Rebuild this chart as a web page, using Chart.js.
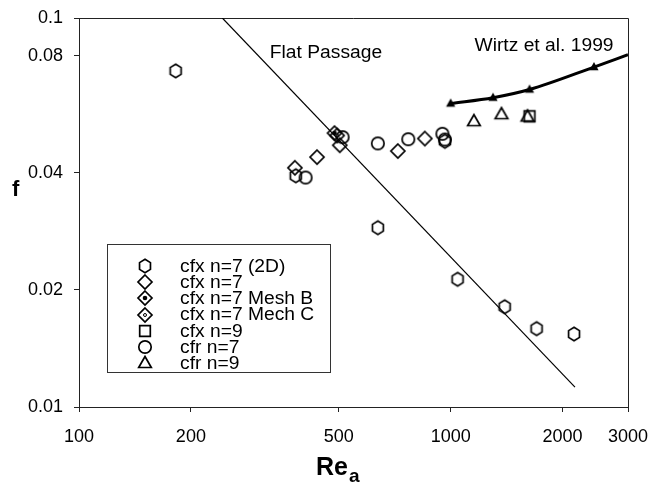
<!DOCTYPE html>
<html>
<head>
<meta charset="utf-8">
<script src="https://cdn.jsdelivr.net/npm/chart.js@4.4.1/dist/chart.umd.min.js"></script>
<style>
  html, body { margin: 0; padding: 0; background: #fff; }
  #wrap { width: 649px; height: 489px; }
</style>
</head>
<body>
<div id="wrap"><canvas id="c" width="649" height="489"></canvas></div>
<script>
// ---- data (Re_a, f) ----
const xTicks = [100, 200, 500, 1000, 2000, 3000];
const yTicks = [0.01, 0.02, 0.04, 0.08, 0.1];

const cfx2dRe = [182, 383, 637, 1044, 1397, 1703, 2147, 965];
const cfx2dF  = [0.0731, 0.0393, 0.0289, 0.0213, 0.0181, 0.0159, 0.0154, 0.0482];
const cfx7Re  = [381, 437, 503, 721, 852];
const cfx7F   = [0.0412, 0.0439, 0.0471, 0.0455, 0.0490];
const meshBRe = [487];
const meshBF  = [0.0506];
const mechCRe = [495];
const mechCF  = [0.0499];
const cfx9Re  = [1630];
const cfx9F   = [0.0559];
const cfr7Re  = [407, 512, 637, 769, 950, 965];
const cfr7F   = [0.0389, 0.0494, 0.0476, 0.0488, 0.0504, 0.0487];
const cfr9Re  = [1155, 1370, 1610];
const cfr9F   = [0.0543, 0.0566, 0.0558];
const wirtzRe = [1000, 1300, 1630, 2430, 3000];
const wirtzF  = [0.0603, 0.0624, 0.0655, 0.0748, 0.0805];
const flatRe  = [243, 2160];
const flatF   = [0.1, 0.01125];

const pts = (xs, ys) => xs.map((x, i) => ({ x: x, y: ys[i] }));

// ---- marker pictures ----
function marker(kind) {
  const c = document.createElement('canvas');
  c.width = 18; c.height = 18;
  const g = c.getContext('2d');
  g.strokeStyle = '#000';
  g.fillStyle = '#000';
  g.lineWidth = 1.7;
  const cx = 9, cy = 9;
  g.beginPath();
  if (kind === 'hex') {
    for (let k = 0; k < 6; k++) {
      const a = -Math.PI / 2 + k * Math.PI / 3;
      const px = cx + 6.3 * Math.cos(a), py = cy + 6.8 * Math.sin(a);
      k ? g.lineTo(px, py) : g.moveTo(px, py);
    }
    g.closePath(); g.stroke();
  } else if (kind.startsWith('dia')) {
    g.moveTo(cx, cy - 7); g.lineTo(cx + 7, cy); g.lineTo(cx, cy + 7); g.lineTo(cx - 7, cy);
    g.closePath(); g.stroke();
    if (kind === 'diaDot') {
      g.beginPath(); g.arc(cx, cy, 2.3, 0, Math.PI * 2); g.fill();
    } else if (kind === 'diaRing') {
      g.beginPath(); g.lineWidth = 1; g.arc(cx, cy, 1.5, 0, Math.PI * 2); g.stroke();
    }
  } else if (kind === 'sq') {
    g.rect(cx - 5.3, cy - 5.3, 10.6, 10.6); g.stroke();
  } else if (kind === 'circ') {
    g.arc(cx, cy, 6.2, 0, Math.PI * 2); g.stroke();
  } else if (kind === 'tri') {
    g.moveTo(cx, cy - 6.5); g.lineTo(cx + 6.3, cy + 4.5); g.lineTo(cx - 6.3, cy + 4.5);
    g.closePath(); g.stroke();
  } else if (kind === 'triFill') {
    g.moveTo(cx, cy - 5); g.lineTo(cx + 4.6, cy + 3.2); g.lineTo(cx - 4.6, cy + 3.2);
    g.closePath(); g.fill();
  }
  return c;
}

const mHex = marker('hex'), mDia = marker('dia'), mDiaDot = marker('diaDot'),
      mDiaRing = marker('diaRing'), mSq = marker('sq'), mCirc = marker('circ'),
      mTri = marker('tri'), mTriFill = marker('triFill');

function scatterSet(label, xs, ys, img) {
  return { label: label, data: pts(xs, ys), pointStyle: img, pointRadius: 7, inLegend: true };
}

const datasets = [
  { label: 'Flat Passage', data: pts(flatRe, flatF), showLine: true, borderColor: '#000',
    borderWidth: 1.2, pointRadius: 0, order: 10 },
  { label: 'Wirtz et al. 1999', data: pts(wirtzRe, wirtzF), showLine: true, borderColor: '#000',
    borderWidth: 3, cubicInterpolationMode: 'monotone', pointStyle: mTriFill,
    pointRadius: wirtzRe.map((v, i) => i === wirtzRe.length - 1 ? 0 : 5), order: 9 },
  scatterSet('cfx n=7 (2D)', cfx2dRe, cfx2dF, mHex),
  scatterSet('cfx n=7', cfx7Re, cfx7F, mDia),
  scatterSet('cfx n=7 Mesh B', meshBRe, meshBF, mDiaDot),
  scatterSet('cfx n=7 Mech C', mechCRe, mechCF, mDiaRing),
  scatterSet('cfx n=9', cfx9Re, cfx9F, mSq),
  scatterSet('cfr n=7', cfr7Re, cfr7F, mCirc),
  scatterSet('cfr n=9', cfr9Re, cfr9F, mTri)
];

// stretched text helper (the source lettering is a bit wide)
function wideText(ctx, txt, x, y, font, align, sx) {
  ctx.save();
  ctx.font = font;
  ctx.textBaseline = 'middle';
  const w = ctx.measureText(txt).width * sx;
  let left = x;
  if (align === 'center') left = x - w / 2;
  ctx.translate(left, y);
  ctx.scale(sx, 1);
  ctx.textAlign = 'left';
  ctx.fillText(txt, 0, 0);
  ctx.restore();
}

const FONT = '17.5px Arial, "Liberation Sans", sans-serif';

const decorations = {
  id: 'decorations',
  beforeDatasetsDraw(chart) {
    const { ctx, chartArea: a } = chart;
    ctx.save();
    ctx.strokeStyle = '#222';
    ctx.lineWidth = 1;
    ctx.beginPath();
    ctx.moveTo(a.left, a.top + 0.5); ctx.lineTo(a.right + 0.5, a.top + 0.5);
    ctx.lineTo(a.right + 0.5, a.bottom);
    ctx.stroke();
    ctx.restore();
  },
  afterDraw(chart) {
    const { ctx } = chart;
    ctx.save();
    ctx.fillStyle = '#000';
    // curve labels
    wideText(ctx, 'Flat Passage', 326, 53, FONT, 'center', 1.1);
    wideText(ctx, 'Wirtz et al. 1999', 544, 46, FONT, 'center', 1.1);

    // legend box
    const bx = 107.5, by = 244.5, bw = 223, bh = 128;
    ctx.fillStyle = '#fff';
    ctx.fillRect(bx, by, bw, bh);
    ctx.strokeStyle = '#333';
    ctx.lineWidth = 1;
    ctx.strokeRect(bx, by, bw, bh);
    ctx.fillStyle = '#000';
    const items = chart.data.datasets.filter(d => d.inLegend);
    items.forEach((d, i) => {
      const ry = 266 + i * 16.2;
      ctx.drawImage(d.pointStyle, 145 - 9, Math.round(ry) - 9);
      wideText(ctx, d.label, 180, ry + 1, FONT, 'left', 1.1);
    });

    // axis titles
    ctx.font = 'bold 22px Arial, "Liberation Sans", sans-serif';
    ctx.textAlign = 'left';
    ctx.textBaseline = 'alphabetic';
    ctx.fillText('f', 12, 196);
    ctx.font = 'bold 25px Arial, "Liberation Sans", sans-serif';
    ctx.fillText('Re', 316, 475);
    const w = ctx.measureText('Re').width;
    ctx.font = 'bold 19px Arial, "Liberation Sans", sans-serif';
    ctx.fillText('a', 316 + w + 1, 482);
    ctx.restore();
  }
};

new Chart(document.getElementById('c'), {
  type: 'scatter',
  data: { datasets: datasets },
  options: {
    responsive: false,
    animation: false,
    events: [],
    layout: { padding: { left: 0, top: 18, right: 21, bottom: 0 } },
    plugins: { legend: { display: false }, tooltip: { enabled: false } },
    scales: {
      x: {
        type: 'logarithmic',
        min: 100, max: 3000,
        afterFit: s => { s.height = 82; s.paddingLeft = 0; s.paddingRight = 0; },
        afterBuildTicks: s => { s.ticks = xTicks.map(v => ({ value: v })); },
        grid: { drawOnChartArea: false, drawTicks: true, tickLength: 5, color: '#222' },
        border: { color: '#222', width: 1 },
        ticks: {
          color: '#000', padding: 14, maxRotation: 0, autoSkip: false,
          font: { family: 'Arial, "Liberation Sans", sans-serif', size: 18 },
          callback: v => String(v)
        }
      },
      y: {
        type: 'logarithmic',
        min: 0.01, max: 0.1,
        afterFit: s => { s.width = 79; s.paddingTop = 0; s.paddingBottom = 0; },
        afterBuildTicks: s => { s.ticks = yTicks.map(v => ({ value: v })); },
        grid: { drawOnChartArea: false, drawTicks: true, tickLength: 5, color: '#222' },
        border: { color: '#222', width: 1 },
        ticks: {
          color: '#000', padding: 11, autoSkip: false,
          font: { family: 'Arial, "Liberation Sans", sans-serif', size: 18 },
          callback: v => String(v)
        }
      }
    }
  },
  plugins: [decorations]
});
</script>
</body>
</html>
